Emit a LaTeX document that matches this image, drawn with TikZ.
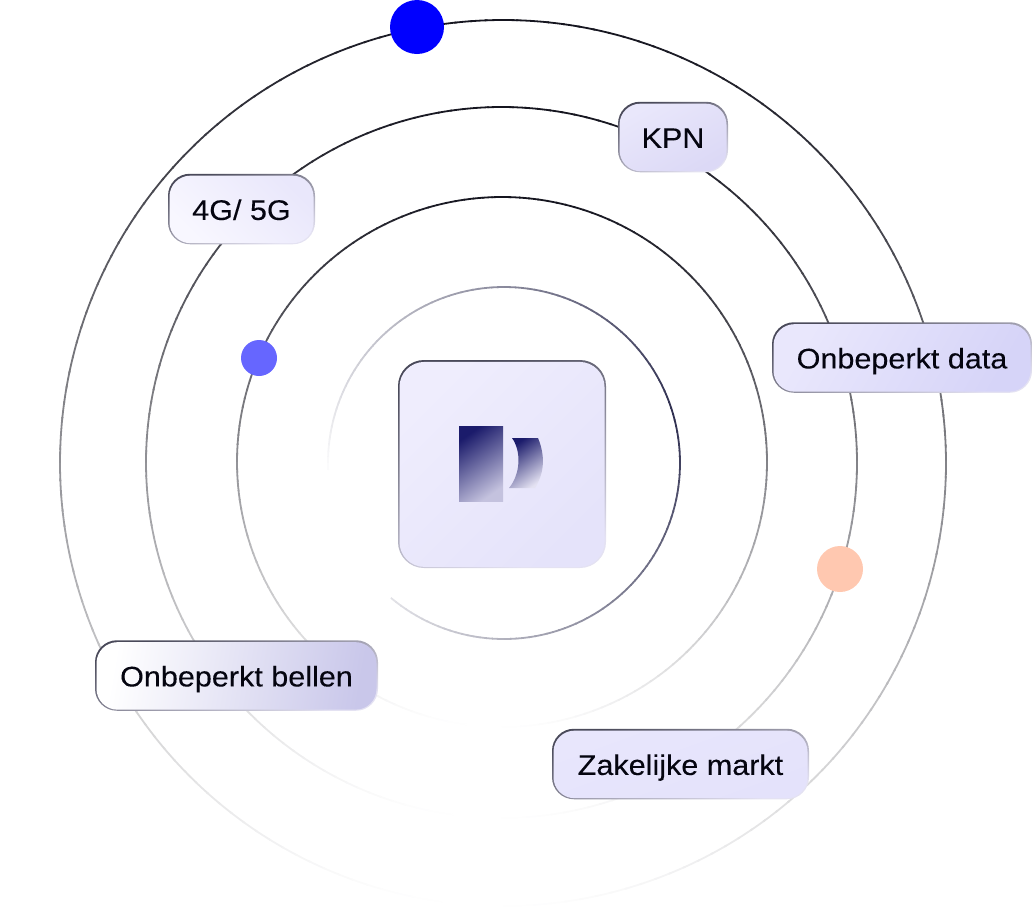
\documentclass[tikz,border=0pt]{standalone}
\usepackage{fontspec}
\setmainfont[FakeStretch=1.08,FakeBold=0.15]{Liberation Sans}
\usetikzlibrary{calc}
\usepackage{xcolor}

\definecolor{ringink}{HTML}{15151F}
\definecolor{orbitink}{HTML}{1C1C40}
\definecolor{textink}{HTML}{050510}
\definecolor{logoink}{HTML}{1B1B6B}
\definecolor{logofade}{HTML}{C4C2DE}
\definecolor{crescentfade}{HTML}{E4E2F2}
\definecolor{edgetop}{HTML}{4A4A5A}
\definecolor{edgelow}{HTML}{E4E2F2}
\definecolor{blueDot}{HTML}{0000FF}
\definecolor{violetDot}{HTML}{6666FF}
\definecolor{peachDot}{HTML}{FFC8B0}
\definecolor{cardA}{HTML}{EFEDFD}
\definecolor{cardB}{HTML}{E5E3FA}
\definecolor{fourA}{HTML}{F8F7FF}
\definecolor{fourB}{HTML}{E9E7FB}
\definecolor{kpnA}{HTML}{E9E7FB}
\definecolor{kpnB}{HTML}{DCD9F6}
\definecolor{dataA}{HTML}{E9E7FC}
\definecolor{dataB}{HTML}{D6D4F8}
\definecolor{bellA}{HTML}{FFFFFF}
\definecolor{bellB}{HTML}{C9C7EA}
\definecolor{markA}{HTML}{E8E6FC}
\definecolor{markB}{HTML}{E4E2FB}

\tikzset{
  ringline/.style={line width=1.8pt},
  chipedge/.style={rounded corners=22pt, inner sep=0pt, top color=edgetop, bottom color=edgelow, shading angle=20},
  chipfill/.style={rounded corners=21pt, inner sep=0pt, text=textink, font=\fontsize{28.3}{30}\selectfont, text height=23pt, text depth=2pt},
  dot/.style={circle, inner sep=0pt}
}

\begin{document}
\begin{tikzpicture}[x=1pt,y=1pt]

        \useasboundingbox (0,0) rectangle (1033,-908);

        % Outer rings
        \foreach \r/\cx/\cy in {443/503/463,355.5/501.5/462.5,265/502/462}
        {
          \coordinate (C) at (\cx,-\cy);
          \foreach \t in {0,2,...,358}
          {
            \pgfmathsetmacro{\p}{50+50*sin(\t+5)}
            \draw[ringline, ringink!\p!white] ($(C)+(\t:\r pt)$) arc[start angle=\t, delta angle=2.3, radius=\r pt];
          }
        }

        % Inner ring
        \coordinate (D) at (504,-463);
        \foreach \t in {-130,-128,...,180}
        {
          \pgfmathsetmacro{\p}{max(0,92*(1-abs(\t-15)/168))}
          \draw[ringline, orbitink!\p!white] ($(D)+(\t:176pt)$) arc[start angle=\t, delta angle=2.3, radius=176pt];
        }

        % Dots
        \node[dot, fill=blueDot, minimum size=54pt] (bigdot) at (417,-27) {};
        \node[dot, fill=violetDot, minimum size=36pt] (smalldot) at (259,-358) {};
        \node[dot, fill=peachDot, minimum size=46pt] (peachdot) at (840,-569) {};

        % Labels
        \foreach \name/\x/\y/\w/\txt/\from/\to/\ang in {
            four/241.5/209/147/{4G/ 5G}/fourA/fourB/135,
            kpn/673/137/110/{KPN}/kpnA/kpnB/30,
            data/902/357.5/260/{Onbeperkt data}/dataA/dataB/60,
            bell/236.5/675.5/283/{Onbeperkt bellen}/bellA/bellB/80,
            mark/680.5/764/257/{Zakelijke markt}/markA/markB/20}
        {
          \node[chipedge, minimum width=\w pt, minimum height=70.5pt] (\name) at (\x,-\y) {};
          \node[chipfill, top color=\from, bottom color=\to, shading angle=\ang, minimum width=\w pt-3pt, minimum height=67.5pt] (\name txt) at ($(\name)+(0,-0.4)$) {\txt};
        }

        % Card with logo
        \node[chipedge, rounded corners=26pt, minimum size=208pt] (card) at (502,-464) {};
        \node[chipfill, rounded corners=25pt, top color=cardA, bottom color=cardB, shading angle=45, minimum size=205pt] (cardfill) at ($(card)+(0,-0.4)$) {};
        \shade[top color=logoink, bottom color=logofade, shading angle=35] (459,-426) rectangle (503,-501);
        \shade[top color=logoink, bottom color=crescentfade, shading angle=35] (512,-438) -- (538,-438) .. controls (545,-455) and (545,-472) .. (535,-488) -- (509,-488) .. controls (520,-475) and (522,-452) .. (512,-438) -- cycle;
    \end{tikzpicture}
\end{document}
